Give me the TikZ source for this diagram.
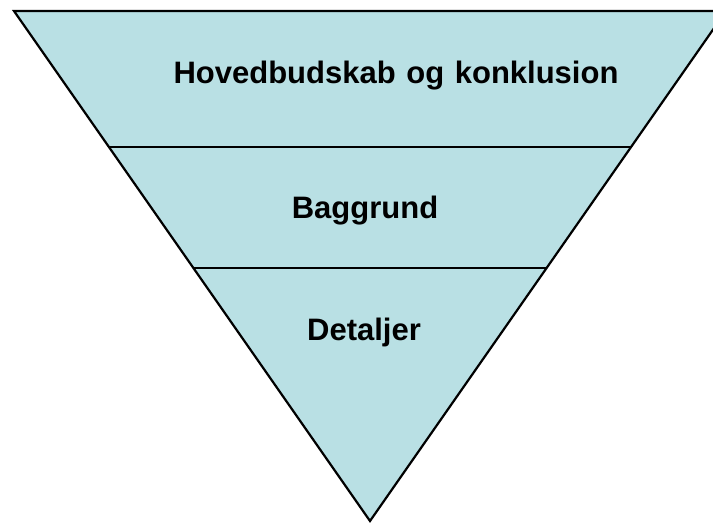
\documentclass[tikz,border=0pt]{standalone}
\usepackage{fontspec}
\setmainfont{Liberation Sans}
\usepackage{tikz}
\usetikzlibrary{calc}
\definecolor{funnelblue}{RGB}{185,224,228}
\tikzset{
  lbl/.style={font=\fontsize{31}{37}\selectfont\bfseries, anchor=base, inner sep=0pt},
  sep/.style={line width=2.2pt}
}

\begin{document}
\begin{tikzpicture}[x=1pt,y=-1pt]

\useasboundingbox (0,0) rectangle (713,523);

\begin{scope}

  \coordinate (tl) at (14,11);
  \coordinate (tr) at (726,11);
  \coordinate (apex) at (370,521);

  \filldraw[fill=funnelblue, line width=2.2pt, line join=miter] (tl) -- (tr) -- (apex) -- cycle;

  \coordinate (al) at ($(apex)!0.733!(tl)$);
  \coordinate (ar) at ($(apex)!0.733!(tr)$);
  \coordinate (bl) at ($(apex)!0.496!(tl)$);
  \coordinate (br) at ($(apex)!0.496!(tr)$);

  \draw[sep] (al) -- (ar);
  \draw[sep] (bl) -- (br);

  \node[lbl] (main) at (396,83) {Hovedbudskab\hspace{2pt} og\hspace{2pt} konklusion};
  \node[lbl] (bg) at (365,218) {Baggrund};
  \node[lbl] (det) at (364,340) {Detaljer};
\end{scope}

\end{tikzpicture}
\end{document}
